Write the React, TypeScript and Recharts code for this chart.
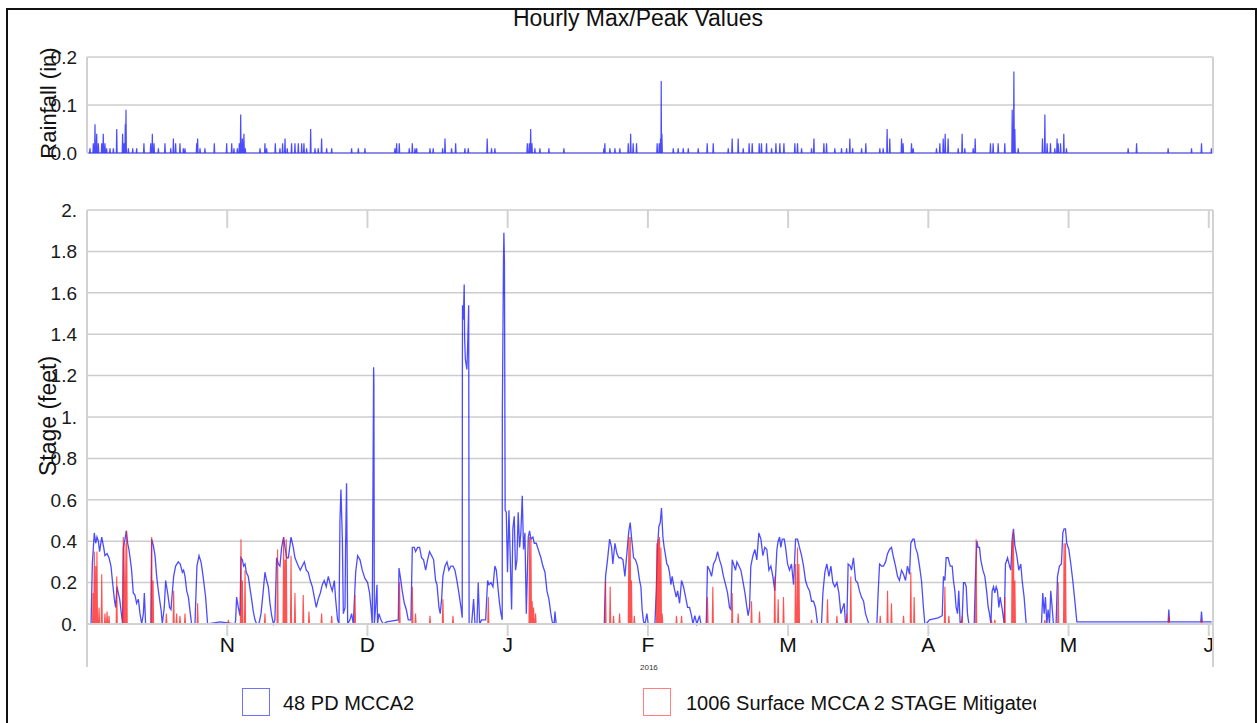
import React from 'react';
import { LineChart, Line, XAxis, YAxis, CartesianGrid, ReferenceLine } from 'recharts';

// time is counted in months since 1 Oct 2015 (each calendar month gets the same width on this axis)
const monthTicks = [1, 2, 3, 4, 5, 6, 7, 8];
const monthLabels = ['N', 'D', 'J', 'F', 'M', 'A', 'M', 'J'];
const rainTicks = [0, 0.1, 0.2];
const rainTickLabels = ['0.0', '0.1', '0.2'];
const stageTicks = [0, 0.2, 0.4, 0.6, 0.8, 1, 1.2, 1.4, 1.6, 1.8, 2];
const stageTickLabels = ['0.', '0.2', '0.4', '0.6', '0.8', '1.', '1.2', '1.4', '1.6', '1.8', '2.'];

// hourly rainfall peaks (in)
const rainfall: [number, number][] = [
  [0.021, 0.01], [0.045, 0.02], [0.057, 0.06], [0.069, 0.04], [0.081, 0.02], [0.105, 0.02], [0.116, 0.04],
  [0.128, 0.02], [0.14, 0.01], [0.164, 0.01], [0.188, 0.01], [0.212, 0.05], [0.254, 0.04], [0.264, 0.02],
  [0.273, 0.06], [0.278, 0.09], [0.295, 0.01], [0.326, 0.01], [0.354, 0.01], [0.406, 0.02], [0.454, 0.02],
  [0.466, 0.04], [0.478, 0.02], [0.509, 0.01], [0.556, 0.02], [0.597, 0.01], [0.616, 0.03], [0.632, 0.02],
  [0.663, 0.02], [0.687, 0.01], [0.699, 0.01], [0.782, 0.02], [0.789, 0.03], [0.806, 0.01], [0.841, 0.01],
  [0.908, 0.02], [0.996, 0.02], [1.032, 0.02], [1.048, 0.01], [1.072, 0.01], [1.086, 0.02], [1.096, 0.08],
  [1.108, 0.03], [1.119, 0.04], [1.129, 0.01], [1.234, 0.01], [1.269, 0.02], [1.281, 0.01], [1.343, 0.02],
  [1.376, 0.01], [1.395, 0.02], [1.412, 0.03], [1.428, 0.01], [1.459, 0.02], [1.483, 0.02], [1.507, 0.02],
  [1.531, 0.02], [1.547, 0.02], [1.566, 0.01], [1.595, 0.05], [1.626, 0.01], [1.649, 0.01], [1.673, 0.03],
  [1.709, 0.01], [1.745, 0.01], [1.887, 0.01], [1.935, 0.01], [1.982, 0.01], [2.196, 0.01], [2.208, 0.02],
  [2.227, 0.02], [2.298, 0.01], [2.32, 0.02], [2.339, 0.01], [2.351, 0.01], [2.446, 0.01], [2.469, 0.01],
  [2.536, 0.01], [2.553, 0.03], [2.6, 0.01], [2.629, 0.02], [2.695, 0.01], [2.719, 0.01], [2.854, 0.03],
  [2.885, 0.01], [2.909, 0.01], [3.14, 0.02], [3.154, 0.02], [3.164, 0.05], [3.173, 0.02], [3.194, 0.01],
  [3.23, 0.01], [3.294, 0.01], [3.401, 0.01], [3.686, 0.01], [3.693, 0.02], [3.729, 0.01], [3.765, 0.01],
  [3.8, 0.01], [3.86, 0.02], [3.877, 0.04], [3.895, 0.02], [3.919, 0.02], [4.066, 0.02], [4.081, 0.02],
  [4.09, 0.03], [4.095, 0.15], [4.1, 0.04], [4.181, 0.01], [4.216, 0.01], [4.252, 0.01], [4.288, 0.01],
  [4.359, 0.01], [4.423, 0.02], [4.466, 0.02], [4.573, 0.01], [4.601, 0.03], [4.644, 0.03], [4.68, 0.01],
  [4.722, 0.02], [4.744, 0.02], [4.794, 0.02], [4.81, 0.02], [4.846, 0.02], [4.882, 0.01], [4.913, 0.02],
  [4.941, 0.02], [4.97, 0.02], [5.048, 0.02], [5.067, 0.02], [5.096, 0.01], [5.167, 0.01], [5.184, 0.03],
  [5.255, 0.02], [5.274, 0.02], [5.333, 0.01], [5.381, 0.01], [5.417, 0.01], [5.44, 0.03], [5.46, 0.01],
  [5.524, 0.01], [5.554, 0.02], [5.654, 0.01], [5.678, 0.01], [5.706, 0.05], [5.725, 0.03], [5.809, 0.03],
  [5.82, 0.02], [5.88, 0.02], [5.892, 0.01], [6.058, 0.01], [6.082, 0.02], [6.106, 0.03], [6.12, 0.04],
  [6.141, 0.03], [6.213, 0.01], [6.241, 0.04], [6.26, 0.01], [6.32, 0.01], [6.334, 0.03], [6.443, 0.02],
  [6.462, 0.02], [6.498, 0.02], [6.545, 0.02], [6.598, 0.09], [6.61, 0.17], [6.617, 0.05], [6.641, 0.01],
  [6.814, 0.03], [6.831, 0.08], [6.847, 0.02], [6.871, 0.02], [6.902, 0.01], [6.918, 0.03], [6.926, 0.02],
  [6.943, 0.02], [6.966, 0.04], [6.985, 0.01], [7.425, 0.01], [7.485, 0.02], [7.71, 0.01], [7.877, 0.01],
  [7.948, 0.02], [8.019, 0.01],
];

// 48 PD MCCA2 stage (feet); null = no record
const pdStage: [number, number | null][] = [
  [0, 0], [0.029, 0], [0.038, 0.29], [0.052, 0.44], [0.062, 0.39], [0.071, 0.42], [0.081, 0.4], [0.09, 0.35],
  [0.105, 0.42], [0.119, 0.37], [0.128, 0.33], [0.143, 0.34], [0.157, 0.32], [0.171, 0.28], [0.181, 0.21],
  [0.195, 0.12], [0.204, 0.08], [0.214, 0.18], [0.223, 0.15], [0.233, 0.12], [0.247, 0.04], [0.254, 0],
  [0.259, 0.37], [0.271, 0.41], [0.28, 0.45], [0.29, 0.39], [0.299, 0.36], [0.309, 0.31], [0.318, 0.26],
  [0.33, 0.15], [0.342, 0.14], [0.354, 0.1], [0.366, 0.12], [0.378, 0.05], [0.39, 0], [0.402, 0.05],
  [0.409, 0.15], [0.418, 0], [0.456, 0], [0.461, 0.41], [0.473, 0.38], [0.485, 0.33], [0.497, 0.23],
  [0.509, 0.16], [0.528, 0.07], [0.537, 0], [0.551, 0.08], [0.561, 0.21], [0.575, 0.15], [0.589, 0.08],
  [0.599, 0.07], [0.608, 0.15], [0.618, 0.23], [0.632, 0.28], [0.651, 0.3], [0.665, 0.29], [0.68, 0.25],
  [0.689, 0.26], [0.699, 0.23], [0.711, 0.16], [0.723, 0.13], [0.737, 0.05], [0.746, 0], [0.77, 0],
  [0.784, 0.28], [0.799, 0.33], [0.813, 0.3], [0.822, 0.26], [0.837, 0.18], [0.846, 0.13], [0.86, 0],
  [0.95, 0.01], [1.055, 0], [1.06, 0.02], [1.067, 0.13], [1.079, 0.08], [1.091, 0.04], [1.098, 0.32],
  [1.108, 0.31], [1.117, 0.28], [1.127, 0.29], [1.136, 0.25], [1.15, 0.23], [1.165, 0.16], [1.174, 0.12],
  [1.186, 0.06], [1.198, 0.02], [1.21, 0], [1.226, 0], [1.241, 0.05], [1.257, 0.16], [1.269, 0.25],
  [1.281, 0.21], [1.293, 0.18], [1.305, 0.1], [1.317, 0.04], [1.329, 0], [1.34, 0.02], [1.352, 0.32],
  [1.364, 0.29], [1.376, 0.28], [1.388, 0.37], [1.402, 0.42], [1.412, 0.37], [1.424, 0.32], [1.436, 0.32],
  [1.455, 0.42], [1.471, 0.37], [1.483, 0.32], [1.495, 0.3], [1.507, 0.28], [1.521, 0.26], [1.535, 0.28],
  [1.55, 0.3], [1.564, 0.26], [1.578, 0.25], [1.592, 0.21], [1.607, 0.18], [1.621, 0.13], [1.635, 0.08],
  [1.649, 0.12], [1.664, 0.15], [1.678, 0.19], [1.692, 0.21], [1.706, 0.18], [1.721, 0.23], [1.735, 0.19],
  [1.749, 0.16], [1.764, 0.21], [1.773, 0.12], [1.787, 0.02], [1.797, 0], [1.804, 0.5], [1.811, 0.65],
  [1.821, 0.41], [1.828, 0.05], [1.84, 0.08], [1.844, 0.37], [1.851, 0.68], [1.859, 0], [1.875, 0.02],
  [1.887, 0.05], [1.899, 0], [1.916, 0.25], [1.93, 0.33], [1.947, 0.31], [1.963, 0.26], [1.982, 0.22],
  [2.001, 0.2], [2.015, 0.15], [2.025, 0.08], [2.034, 0], [2.039, 0.6], [2.044, 1.24], [2.046, 1.17],
  [2.049, 0], [2.058, 0.08], [2.068, 0.19], [2.072, 0], [2.082, 0.05], [2.096, 0.02], [2.113, 0],
  [2.137, 0.01], [2.22, 0.02], [2.225, 0.27], [2.234, 0.23], [2.248, 0.16], [2.263, 0.1], [2.277, 0.07],
  [2.291, 0.02], [2.31, 0.02], [2.32, 0.37], [2.334, 0.37], [2.343, 0.35], [2.358, 0.37], [2.372, 0.37],
  [2.386, 0.32], [2.4, 0.31], [2.415, 0.26], [2.429, 0.31], [2.443, 0.35], [2.458, 0.33], [2.472, 0.31],
  [2.486, 0.21], [2.496, 0.19], [2.51, 0.08], [2.519, 0.05], [2.529, 0.12], [2.538, 0.23], [2.553, 0.28],
  [2.567, 0.3], [2.581, 0.26], [2.595, 0.28], [2.61, 0.28], [2.624, 0.26], [2.638, 0.21], [2.652, 0.15],
  [2.667, 0.08], [2.676, 0.03], [2.677, 1.2], [2.678, 1.54], [2.684, 1.47], [2.69, 1.64], [2.693, 1.38],
  [2.698, 1.28], [2.709, 1.23], [2.714, 1.33], [2.722, 1.54], [2.725, 0], [2.743, 0], [2.757, 0.12],
  [2.767, 0], [2.781, 0], [2.79, 0.2], [2.8, 0], [2.814, 0.02], [2.843, 0.02], [2.857, 0.21], [2.866, 0.19],
  [2.881, 0.2], [2.895, 0.18], [2.909, 0.28], [2.919, 0.26], [2.933, 0.16], [2.942, 0.1], [2.952, 0.05],
  [2.961, 0.02], [2.962, 1.02], [2.97, 1.75], [2.973, 1.89], [2.977, 1.75], [2.982, 0.55], [2.99, 0.54],
  [2.999, 0.25], [3.009, 0.55], [3.018, 0.33], [3.028, 0.07], [3.037, 0.46], [3.047, 0.52], [3.056, 0.26],
  [3.066, 0.31], [3.075, 0.54], [3.085, 0.37], [3.094, 0.44], [3.104, 0.62], [3.113, 0.36], [3.123, 0.44],
  [3.133, 0.05], [3.147, 0.42], [3.156, 0.45], [3.166, 0.41], [3.18, 0.42], [3.19, 0.39], [3.204, 0.39],
  [3.218, 0.36], [3.237, 0.32], [3.251, 0.28], [3.266, 0.25], [3.28, 0.16], [3.294, 0.12], [3.308, 0.05],
  [3.318, 0.01], [3.332, 0], [3.337, 0.06], [3.346, 0], [3.373, 0], [3.5, null], [3.689, 0], [3.698, 0.23],
  [3.712, 0.31], [3.727, 0.41], [3.741, 0.37], [3.75, 0.29], [3.765, 0.39], [3.779, 0.34], [3.793, 0.32],
  [3.807, 0.32], [3.822, 0.31], [3.836, 0.23], [3.85, 0.34], [3.864, 0.45], [3.874, 0.49], [3.883, 0.42],
  [3.898, 0.32], [3.912, 0.31], [3.926, 0.28], [3.941, 0.21], [3.95, 0.18], [3.959, 0.07], [3.969, 0.01],
  [3.979, 0], [3.993, 0.05], [4.002, 0], [4.05, 0], [4.059, 0.15], [4.069, 0.37], [4.078, 0.47],
  [4.088, 0.49], [4.097, 0.56], [4.107, 0.42], [4.116, 0.37], [4.126, 0.33], [4.135, 0.29], [4.145, 0.28],
  [4.154, 0.25], [4.164, 0.19], [4.173, 0.23], [4.183, 0.19], [4.192, 0.16], [4.202, 0.13], [4.212, 0.16],
  [4.226, 0.1], [4.24, 0.21], [4.254, 0.18], [4.269, 0.13], [4.283, 0.08], [4.297, 0.08], [4.311, 0.04],
  [4.321, 0], [4.335, 0.04], [4.349, 0], [4.368, 0.04], [4.378, 0], [4.416, 0], [4.425, 0.28], [4.44, 0.26],
  [4.454, 0.23], [4.468, 0.29], [4.483, 0.31], [4.497, 0.35], [4.511, 0.31], [4.525, 0.28], [4.539, 0.23],
  [4.554, 0.19], [4.568, 0.15], [4.582, 0.08], [4.592, 0.07], [4.601, 0.31], [4.611, 0.29], [4.625, 0.26],
  [4.635, 0.3], [4.649, 0.28], [4.663, 0.26], [4.677, 0.21], [4.692, 0.15], [4.706, 0.08], [4.715, 0.04],
  [4.725, 0.08], [4.734, 0.28], [4.749, 0.33], [4.763, 0.36], [4.777, 0.31], [4.791, 0.44], [4.806, 0.41],
  [4.82, 0.33], [4.834, 0.37], [4.848, 0.36], [4.863, 0.26], [4.877, 0.28], [4.891, 0.23], [4.905, 0.16],
  [4.92, 0.36], [4.929, 0.4], [4.939, 0.42], [4.948, 0.37], [4.958, 0.41], [4.972, 0.41], [4.982, 0.37],
  [4.996, 0.29], [5.01, 0.26], [5.024, 0.29], [5.039, 0.19], [5.053, 0.41], [5.067, 0.41], [5.081, 0.37],
  [5.096, 0.33], [5.11, 0.28], [5.124, 0.21], [5.138, 0.18], [5.153, 0.16], [5.167, 0.11], [5.181, 0.11],
  [5.195, 0.08], [5.21, 0], [5.238, 0], [5.248, 0.15], [5.262, 0.25], [5.276, 0.29], [5.291, 0.23],
  [5.305, 0.28], [5.319, 0.2], [5.333, 0.18], [5.348, 0.2], [5.362, 0.15], [5.376, 0.05], [5.39, 0.08],
  [5.4, 0.1], [5.409, 0], [5.419, 0.02], [5.428, 0.29], [5.443, 0.28], [5.452, 0.26], [5.466, 0.32],
  [5.481, 0.21], [5.495, 0.2], [5.509, 0.16], [5.523, 0.13], [5.538, 0.11], [5.552, 0.05], [5.566, 0.02],
  [5.576, 0], [5.633, 0], [5.642, 0.15], [5.652, 0.29], [5.666, 0.28], [5.68, 0.28], [5.695, 0.3],
  [5.709, 0.34], [5.723, 0.36], [5.737, 0.37], [5.752, 0.32], [5.766, 0.28], [5.78, 0.23], [5.794, 0.21],
  [5.809, 0.26], [5.823, 0.24], [5.837, 0.21], [5.851, 0.28], [5.866, 0.24], [5.875, 0.39], [5.889, 0.41],
  [5.899, 0.41], [5.908, 0.37], [5.923, 0.34], [5.937, 0.28], [5.951, 0.21], [5.965, 0.08], [5.975, 0],
  [5.984, 0], [6.008, 0.02], [6.07, 0.03], [6.099, 0.04], [6.108, 0.23], [6.118, 0.21], [6.127, 0.32],
  [6.141, 0.32], [6.156, 0.28], [6.17, 0.28], [6.179, 0.21], [6.189, 0.16], [6.198, 0.08], [6.208, 0.05],
  [6.217, 0.16], [6.227, 0], [6.241, 0.02], [6.251, 0.2], [6.26, 0.2], [6.27, 0.18], [6.279, 0.05],
  [6.289, 0], [6.327, 0], [6.336, 0.23], [6.346, 0.4], [6.355, 0.37], [6.365, 0.37], [6.374, 0.31],
  [6.389, 0.26], [6.403, 0.23], [6.417, 0.15], [6.427, 0.08], [6.436, 0.05], [6.446, 0], [6.455, 0.16],
  [6.465, 0.18], [6.474, 0.15], [6.484, 0.18], [6.493, 0.16], [6.503, 0.08], [6.512, 0.13], [6.527, 0.07],
  [6.541, 0], [6.55, 0.29], [6.565, 0.32], [6.579, 0.28], [6.588, 0.26], [6.598, 0.41], [6.607, 0.46],
  [6.617, 0.38], [6.631, 0.33], [6.645, 0.26], [6.659, 0.29], [6.669, 0.21], [6.683, 0.13], [6.698, 0],
  [6.807, 0], [6.816, 0.15], [6.826, 0.05], [6.835, 0.13], [6.845, 0], [6.854, 0.07], [6.864, 0],
  [6.873, 0.16], [6.883, 0.08], [6.892, 0], [6.911, 0], [6.921, 0.23], [6.935, 0.28], [6.949, 0.29],
  [6.959, 0.44], [6.968, 0.46], [6.978, 0.46], [6.987, 0.39], [7.002, 0.36], [7.016, 0.29], [7.03, 0.21],
  [7.045, 0.11], [7.059, 0.01], [7.5, 0.01], [7.71, 0.01], [7.715, 0.07], [7.72, 0.01], [7.943, 0.01],
  [7.948, 0.06], [7.953, 0.01], [8.02, 0.01],
];

// 1006 Surface MCCA 2 STAGE Mitigated (feet), hourly peaks
const surfaceStage: [number, number][] = [
  [0.043, 0.15], [0.052, 0.35], [0.062, 0.28], [0.071, 0.35], [0.086, 0.08], [0.105, 0.24], [0.128, 0.05],
  [0.143, 0.06], [0.157, 0.04], [0.212, 0.23], [0.259, 0.42], [0.271, 0.39], [0.283, 0.45], [0.461, 0.42],
  [0.471, 0.21], [0.566, 0.05], [0.618, 0.16], [0.639, 0.05], [0.663, 0.04], [0.699, 0.05], [0.789, 0.1],
  [1.008, 0.02], [1.098, 0.41], [1.108, 0.21], [1.127, 0.26], [1.269, 0.05], [1.359, 0.36], [1.402, 0.42],
  [1.412, 0.31], [1.421, 0.41], [1.455, 0.33], [1.483, 0.15], [1.542, 0.14], [1.583, 0.06], [1.673, 0.05],
  [1.745, 0.04], [1.911, 0.14], [2.229, 0.2], [2.32, 0.18], [2.343, 0.05], [2.446, 0.04], [2.538, 0.12],
  [2.61, 0.04], [2.862, 0.13], [3.156, 0.42], [3.166, 0.41], [3.175, 0.11], [3.185, 0.08], [3.199, 0.05],
  [3.698, 0.21], [3.731, 0.18], [3.755, 0.04], [3.798, 0.05], [3.864, 0.42], [3.874, 0.42], [3.883, 0.21],
  [3.903, 0.04], [4.064, 0.39], [4.074, 0.41], [4.083, 0.42], [4.093, 0.37], [4.102, 0.05], [4.204, 0.04],
  [4.24, 0.04], [4.425, 0.13], [4.463, 0.18], [4.601, 0.15], [4.644, 0.05], [4.739, 0.11], [4.796, 0.06],
  [4.905, 0.23], [4.929, 0.12], [4.967, 0.13], [5.053, 0.29], [5.067, 0.37], [5.077, 0.29], [5.167, 0.02],
  [5.281, 0.12], [5.348, 0.04], [5.419, 0.05], [5.447, 0.23], [5.657, 0.04], [5.709, 0.16], [5.737, 0.1],
  [5.823, 0.04], [5.875, 0.25], [5.899, 0.13], [6.118, 0.18], [6.146, 0.04], [6.241, 0.04], [6.341, 0.41],
  [6.45, 0.02], [6.474, 0.02], [6.545, 0.13], [6.598, 0.4], [6.607, 0.45], [6.617, 0.21], [6.831, 0.02],
  [6.926, 0.2], [6.968, 0.39], [6.978, 0.39], [7.715, 0.04], [7.948, 0.02],
];

type Pt = { t: number; v: number | null };

const rainData: Pt[] = [{ t: 0.01, v: 0 }];
rainfall.forEach(([t, v]) => {
  rainData.push({ t: t - 0.003, v: 0 }, { t, v }, { t: t + 0.003, v: 0 });
});
rainData.push({ t: 8.025, v: 0 });
rainData.sort((a, b) => a.t - b.t);

const pdData: Pt[] = pdStage.map(([t, v]) => ({ t, v }));

const surfaceData: Pt[] = [];
surfaceStage.forEach(([t, v]) => {
  surfaceData.push({ t: t - 0.004, v: 0 }, { t, v }, { t: t + 0.004, v: 0 }, { t: t + 0.0042, v: null });
});

const FONT = '"Liberation Sans", Arial, sans-serif';
const GRID = '#cccccc';
const AXIS = '#d2d2d2';
const BLUE = '#1010ff';
const RED = '#ff1a1a';
const tickStyle = { fill: '#1a1a1a', fontSize: 19, fontFamily: FONT };
const domain: [number, number] = [0, 8.03];

const fmt = (ticks: number[], labels: string[]) => (v: number) => {
  const i = ticks.findIndex((k) => Math.abs(k - v) < 1e-9);
  return i >= 0 ? labels[i] : '';
};

export default function App() {
  return (
    <div style={{ position: 'absolute', left: 0, top: 0, width: 1257, height: 723, background: '#fff', overflow: 'hidden', fontFamily: FONT, color: '#111' }}>
      <div style={{ position: 'absolute', left: 6, top: 8, width: 1251, height: 730, border: '2px solid #111', boxSizing: 'border-box' }} />
      <div style={{ position: 'absolute', left: 0, width: 1276, top: 5, textAlign: 'center', fontSize: 23, lineHeight: '27px' }}>
        Hourly Max/Peak Values
      </div>

      {/* rainfall panel */}
      <div style={{ position: 'absolute', left: 0, top: 0 }}>
        <LineChart width={1257} height={170} data={rainData} margin={{ top: 57, right: 4, bottom: 17, left: 27 }}>
          <CartesianGrid yAxisId="l" vertical={false} stroke={GRID} strokeWidth={1.5} />
          <XAxis type="number" dataKey="t" domain={domain} allowDataOverflow hide />
          <YAxis yAxisId="l" width={60} domain={[0, 0.2]} ticks={rainTicks} tickFormatter={fmt(rainTicks, rainTickLabels)}
            tickLine={false} axisLine={{ stroke: AXIS, strokeWidth: 2 }} tick={tickStyle} tickMargin={4} interval={0} />
          <YAxis yAxisId="r" orientation="right" width={40} domain={[0, 0.2]} ticks={rainTicks} tickFormatter={fmt(rainTicks, rainTickLabels)}
            tickLine={false} axisLine={{ stroke: AXIS, strokeWidth: 2 }} tick={tickStyle} tickMargin={2} interval={0} />
          <Line yAxisId="l" dataKey="v" stroke={BLUE} strokeOpacity={0.75} strokeWidth={1.2} dot={false} isAnimationActive={false} />
        </LineChart>
      </div>

      {/* stage panel */}
      <div style={{ position: 'absolute', left: 0, top: 160 }}>
        <LineChart width={1257} height={540} margin={{ top: 50, right: 4, bottom: 36, left: 27 }}>
          <CartesianGrid yAxisId="l" vertical={false} stroke={GRID} strokeWidth={1.5} />
          <XAxis type="number" dataKey="t" domain={domain} allowDataOverflow ticks={monthTicks} interval={0}
            tickFormatter={fmt(monthTicks, monthLabels)} height={40} tickSize={12} tickMargin={1}
            tickLine={{ stroke: AXIS, strokeWidth: 2 }} axisLine={{ stroke: AXIS, strokeWidth: 2 }}
            tick={{ fill: '#111', fontSize: 21, fontFamily: FONT }} />
          <YAxis yAxisId="l" width={60} domain={[0, 2]} ticks={stageTicks} tickFormatter={fmt(stageTicks, stageTickLabels)}
            tickLine={false} axisLine={{ stroke: AXIS, strokeWidth: 2 }} tick={tickStyle} tickMargin={4} interval={0} />
          <YAxis yAxisId="r" orientation="right" width={40} domain={[0, 2]} ticks={stageTicks} tickFormatter={fmt(stageTicks, stageTickLabels)}
            tickLine={false} axisLine={{ stroke: AXIS, strokeWidth: 2 }} tick={tickStyle} tickMargin={2} interval={0} />
          {monthTicks.map((m) => (
            <ReferenceLine key={m} yAxisId="l" segment={[{ x: m, y: 2 }, { x: m, y: 1.913 }]} stroke={AXIS} strokeWidth={2} />
          ))}
          <Line yAxisId="l" data={pdData} dataKey="v" stroke={BLUE} strokeOpacity={0.75} strokeWidth={1.3} dot={false} isAnimationActive={false} />
          <Line yAxisId="l" data={surfaceData} dataKey="v" stroke={RED} strokeOpacity={0.75} strokeWidth={1.1} dot={false} isAnimationActive={false} />
        </LineChart>
      </div>

      {/* axis lines continuing below the stage panel */}
      <div style={{ position: 'absolute', left: 86, top: 624, width: 2, height: 43, background: AXIS }} />
      <div style={{ position: 'absolute', left: 1212, top: 624, width: 2, height: 43, background: AXIS }} />
      <div style={{ position: 'absolute', left: 640, top: 663, fontSize: 8, color: '#333' }}>2016</div>

      {/* axis titles */}
      <div style={{ position: 'absolute', left: 49, top: 103, transform: 'translate(-50%, -50%) rotate(-90deg)', fontSize: 22, whiteSpace: 'nowrap' }}>
        Rainfall (in)
      </div>
      <div style={{ position: 'absolute', left: 48, top: 416, transform: 'translate(-50%, -50%) rotate(-90deg)', fontSize: 23, whiteSpace: 'nowrap' }}>
        Stage (feet)
      </div>

      {/* legend */}
      <div style={{ position: 'absolute', left: 242, top: 688, width: 28, height: 28, border: '1.5px solid #7070ff', boxSizing: 'border-box' }} />
      <div style={{ position: 'absolute', left: 283, top: 690, fontSize: 20, lineHeight: '26px', whiteSpace: 'nowrap' }}>48 PD MCCA2</div>
      <div style={{ position: 'absolute', left: 643, top: 688, width: 28, height: 28, border: '1.5px solid #ff8080', boxSizing: 'border-box' }} />
      <div style={{ position: 'absolute', left: 686, top: 690, width: 350, overflow: 'hidden', fontSize: 20, lineHeight: '26px', whiteSpace: 'nowrap' }}>
        1006 Surface MCCA 2 STAGE Mitigated
      </div>
    </div>
  );
}
